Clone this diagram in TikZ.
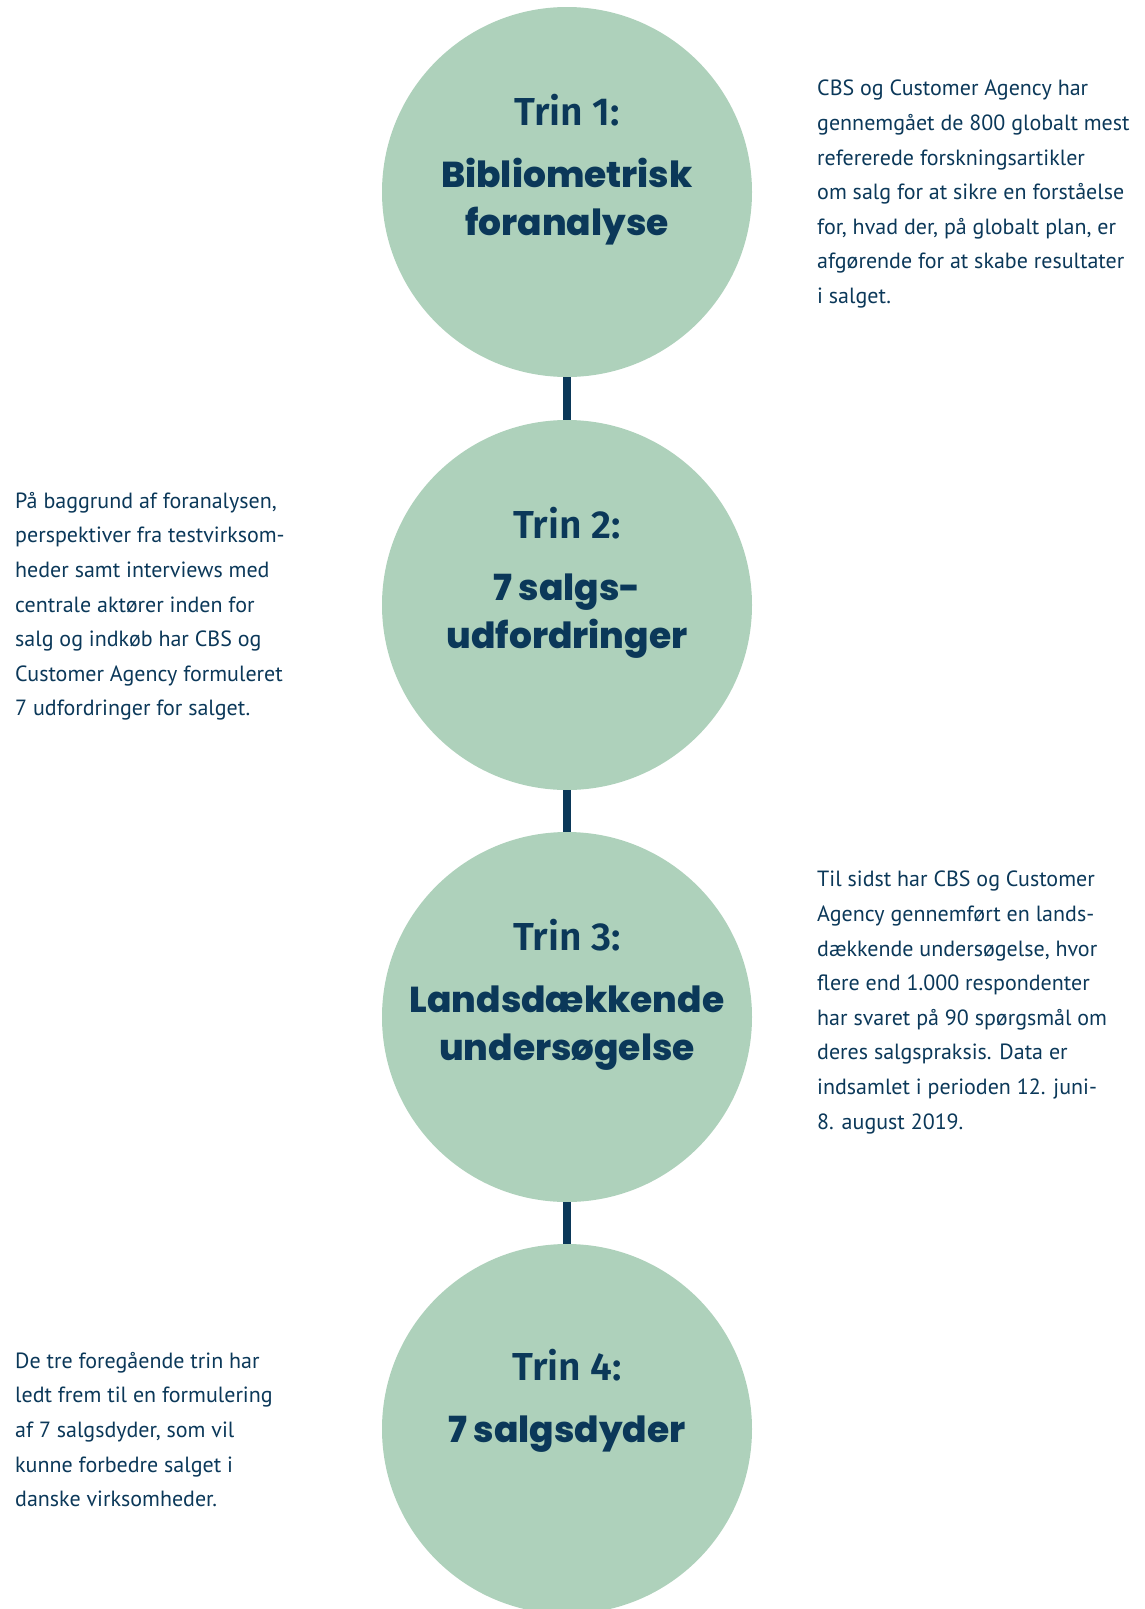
\documentclass[tikz,border=0pt]{standalone}
\usepackage{fontspec}
\setmainfont{PT Sans}
\newfontfamily\trinfont{Fira Sans SemiBold}
\newfontfamily\titlefont{Poppins ExtraBold}
\usetikzlibrary{positioning}

\definecolor{stepgreen}{RGB}{174, 209, 187}
\definecolor{navy}{RGB}{11, 56, 89}

\tikzset{
  stepcircle/.style={circle, fill=stepgreen, minimum size=370pt, inner sep=0pt},
  steptext/.style={align=center, inner sep=0pt, text=navy, yshift=22pt,
    font=\titlefont\fontsize{36}{48}\selectfont},
  bodytext/.style={align=left, inner sep=0pt, anchor=north west, text=navy,
    font=\fontsize{22}{34.6}\selectfont},
  link/.style={line width=8pt, navy}
}
\newcommand{\trinlabel}[1]{{\trinfont\fontsize{39}{48}\selectfont #1}}

\begin{document}
\begin{tikzpicture}[x=1pt, y=-1pt]
  \useasboundingbox (0,0) rectangle (1144,1609);

  % The four steps
  \node[stepcircle] (c1) at (567,192) {};
  \node[stepcircle] (c2) at (567,605) {};
  \node[stepcircle] (c3) at (567,1017) {};
  \node[stepcircle] (c4) at (567,1429) {};

  % Connectors
  \draw[link] (c1.south) -- (c2.north);
  \draw[link] (c2.south) -- (c3.north);
  \draw[link] (c3.south) -- (c4.north);

  % Step titles
  \node[steptext] (t1) at (c1.center) {\trinlabel{Trin 1:}\\[14pt]Bibliometrisk\\foranalyse};
  \node[steptext] (t2) at (c2.center) {\trinlabel{Trin 2:}\\[14pt]7 salgs-\\udfordringer};
  \node[steptext] (t3) at (c3.center) {\trinlabel{Trin 3:}\\[14pt]Landsdækkende\\undersøgelse};
  \node[steptext, yshift=6pt] (t4) at (c4.center) {\trinlabel{Trin 4:}\\[14pt]7 salgsdyder};

  % Descriptions
  \node[bodytext] (d1) at (817,80) {CBS og Customer Agency har\\
    gennemgået de 800 globalt mest\\
    refererede forskningsartikler\\
    om salg for at sikre en forståelse\\
    for, hvad der, på globalt plan, er\\
    afgørende for at skabe resultater\\
    i salget.};

  \node[bodytext] (d2) at (15,492) {På baggrund af foranalysen,\\
    perspektiver fra testvirksom-\\
    heder samt interviews med\\
    centrale aktører inden for\\
    salg og indkøb har CBS og\\
    Customer Agency formuleret\\
    7 udfordringer for salget.};

  \node[bodytext] (d3) at (817,871) {Til sidst har CBS og Customer\\
    Agency gennemført en lands-\\
    dækkende undersøgelse, hvor\\
    flere end 1.000 respondenter\\
    har svaret på 90 spørgsmål om\\
    deres salgspraksis. Data er\\
    indsamlet i perioden 12. juni-\\
    8. august 2019.};

  \node[bodytext] (d4) at (15,1352) {De tre foregående trin har\\
    ledt frem til en formulering\\
    af 7 salgsdyder, som vil\\
    kunne forbedre salget i\\
    danske virksomheder.};
\end{tikzpicture}
\end{document}
